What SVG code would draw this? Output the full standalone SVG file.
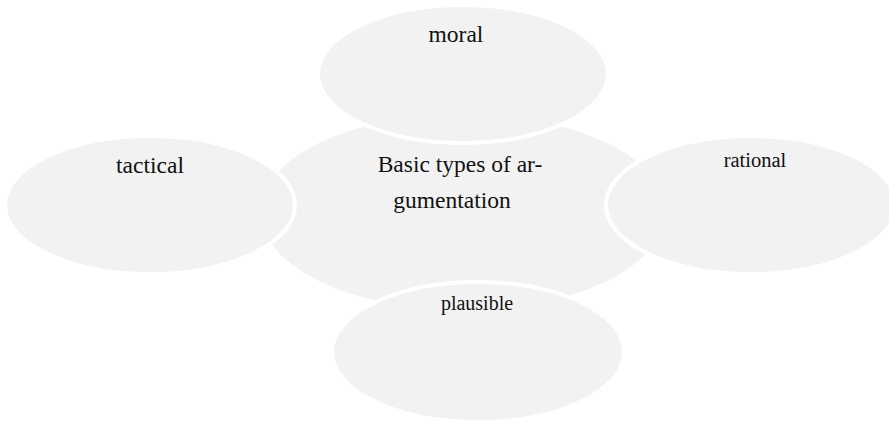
<svg xmlns="http://www.w3.org/2000/svg" width="889" height="421" viewBox="0 0 889 421">
<style>
.shape{fill:#f2f2f2;stroke:#ffffff;stroke-width:4}
.lbl{font-family:"Liberation Serif","DejaVu Serif",serif;fill:#111111;text-anchor:middle}
</style>
<rect width="889" height="421" fill="#ffffff"/>
<g id="connectors"></g>
<g id="center">
<ellipse class="shape" cx="463" cy="212" rx="205" ry="100"/>
<text class="lbl" font-size="23.5" x="460" y="172">Basic types of ar-</text>
<text class="lbl" font-size="23.5" x="452" y="208">gumentation</text>
</g>
<g id="moral">
<ellipse class="shape" cx="463" cy="74" rx="145" ry="69"/>
<text class="lbl" font-size="23.5" x="456" y="42">moral</text>
</g>
<g id="tactical">
<ellipse class="shape" cx="150" cy="205" rx="145" ry="69"/>
<text class="lbl" font-size="23.5" x="150" y="173">tactical</text>
</g>
<g id="rational">
<ellipse class="shape" cx="751" cy="205" rx="145" ry="69"/>
<text class="lbl" font-size="20.5" x="755" y="167">rational</text>
</g>
<g id="plausible">
<ellipse class="shape" cx="478" cy="352" rx="146" ry="70"/>
<text class="lbl" font-size="20" x="477" y="310">plausible</text>
</g>
</svg>
